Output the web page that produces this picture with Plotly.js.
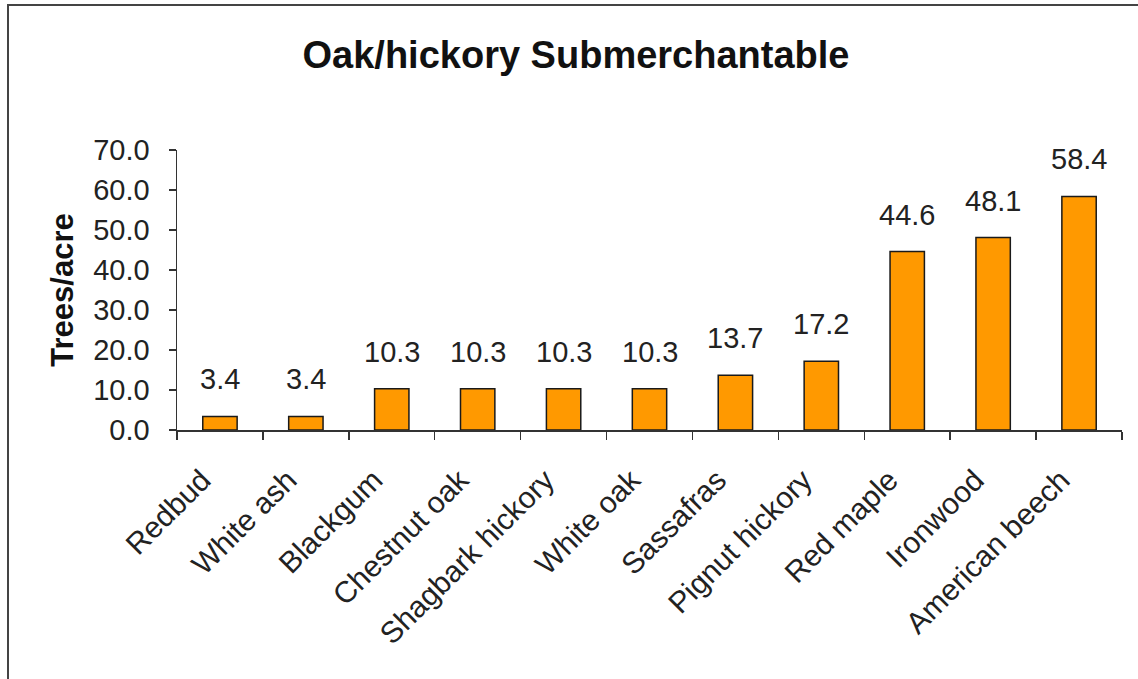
<!DOCTYPE html>
<html>
<head>
<meta charset="utf-8">
<script src="https://cdn.plot.ly/plotly-3.0.1.min.js"></script>
<style>
  html, body { margin: 0; padding: 0; background: #fff; }
  #wrap { position: relative; width: 1138px; height: 679px; overflow: hidden; }
  #chart { width: 1138px; height: 679px; }
  #frame { position: absolute; left: 7px; top: 4px; width: 1200px; height: 800px;
           border-top: 2px solid #444; border-left: 2px solid #444; pointer-events: none; }
</style>
</head>
<body>
<div id="wrap">
  <div id="chart"></div>
  <div id="frame"></div>
</div>
<script>
const species = ["Redbud", "White ash", "Blackgum", "Chestnut oak", "Shagbark hickory",
                 "White oak", "Sassafras", "Pignut hickory", "Red maple", "Ironwood", "American beech"];
const treesPerAcre = [3.4, 3.4, 10.3, 10.3, 10.3, 10.3, 13.7, 17.2, 44.6, 48.1, 58.4];
const yTicks = [0, 10, 20, 30, 40, 50, 60, 70];

const FONT = "Liberation Sans, Arial, Helvetica, sans-serif";
const TXT = "#222222";

const trace = {
  type: "bar",
  x: species,
  y: treesPerAcre,
  marker: { color: "#FF9900", line: { color: "#1a1a1a", width: 1.5 } },
  hoverinfo: "x+y"
};

const annotations = species.map((s, i) => ({
  x: s, y: treesPerAcre[i], xref: "x", yref: "y",
  text: treesPerAcre[i].toFixed(1),
  showarrow: false, yanchor: "bottom", yshift: 19,
  font: { family: FONT, size: 29, color: TXT }
}));

const layout = {
  width: 1138, height: 679,
  margin: { l: 177, r: 16, t: 150, b: 249 },
  paper_bgcolor: "#ffffff", plot_bgcolor: "#ffffff",
  showlegend: false,
  bargap: 0.6,
  title: {
    text: "<b>Oak/hickory Submerchantable</b>",
    font: { family: FONT, size: 38, color: "#111111" },
    x: 576 / 1138, xanchor: "center", xref: "container",
    y: 1 - 55 / 679, yanchor: "middle", yref: "container"
  },
  xaxis: {
    type: "category",
    tickangle: -45,
    tickson: "boundaries",
    ticks: "outside", ticklen: 8, tickcolor: "#333", tickwidth: 1.5,
    showline: true, linecolor: "#333", linewidth: 1.5,
    showgrid: false, zeroline: false,
    tickfont: { family: FONT, size: 30, color: TXT },
    ticklabelstandoff: 19,
    ticklabelshift: -18
  },
  yaxis: {
    range: [0, 70],
    tickvals: yTicks,
    tickformat: ".1f",
    ticks: "outside", ticklen: 7, tickcolor: "#333", tickwidth: 1.5,
    showline: true, linecolor: "#333", linewidth: 1.5,
    showgrid: false, zeroline: false,
    tickfont: { family: FONT, size: 29, color: TXT },
    ticklabelstandoff: 13,
    title: { text: "<b>Trees/acre</b>", font: { family: FONT, size: 31, color: "#111111" }, standoff: 10 }
  },
  annotations: annotations
};

Plotly.newPlot("chart", [trace], layout, { staticPlot: true, displayModeBar: false });
</script>
</body>
</html>
